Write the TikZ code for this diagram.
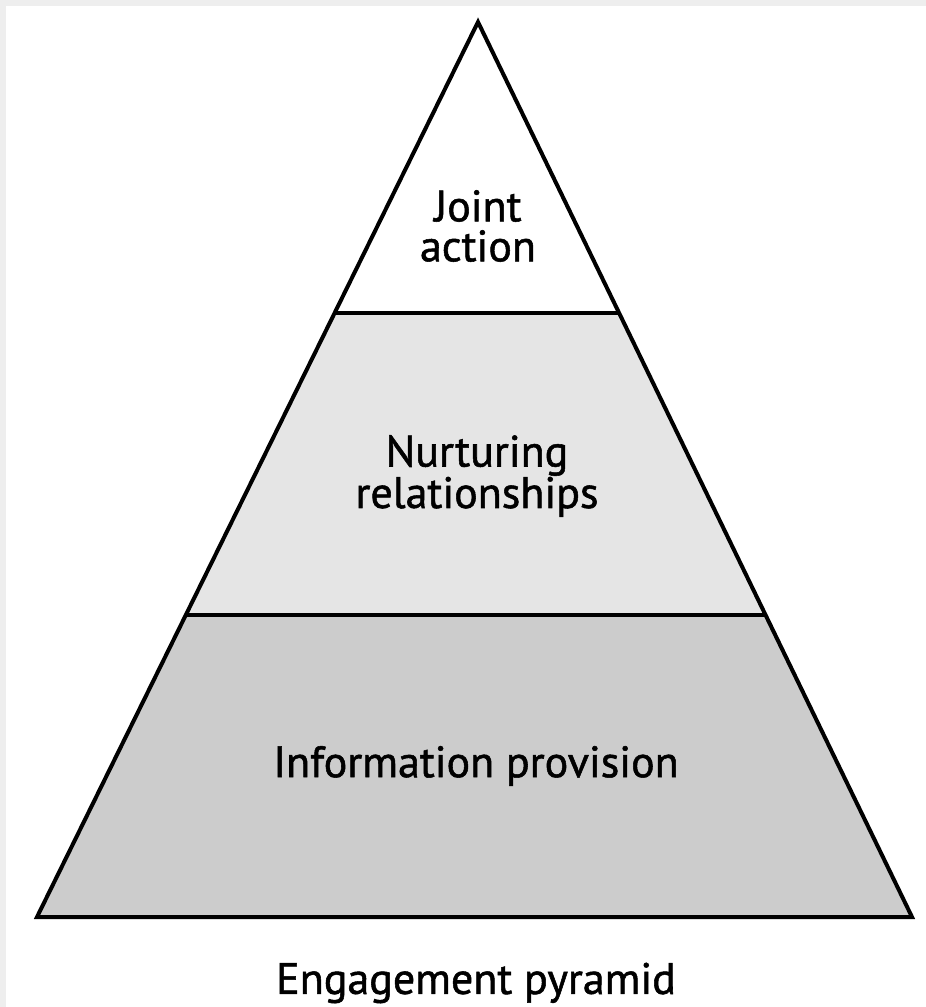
\documentclass[tikz,border=0pt]{standalone}
\usepackage{fontspec}
\setmainfont{PT Sans}[UprightFeatures={FakeBold=1.2}]
\usepackage{xcolor}
\usetikzlibrary{calc}
\definecolor{framegray}{HTML}{EEEEEE}
\definecolor{midgray}{HTML}{E5E5E5}
\definecolor{lowgray}{HTML}{CCCCCC}
\tikzstyle{edge}=[draw=black,line width=4pt,line join=miter]
\tikzstyle{label}=[align=center,font=\fontsize{44}{40}\selectfont]

\begin{document}
\begin{tikzpicture}[x=1pt,y=-1pt]
	\fill[framegray] (0,0) rectangle (926,1007);
	\fill[white] (6,6) rectangle (926,1007);
	\useasboundingbox (0,0) rectangle (926,1007);
	% corners of the pyramid and its levels
	\coordinate (apex) at (478,22);
	\coordinate (bl) at (37,917);
	\coordinate (br) at (912,917);
	\coordinate (t1l) at ($(apex)!0.3251!(bl)$);
	\coordinate (t1r) at ($(apex)!0.3251!(br)$);
	\coordinate (t2l) at ($(apex)!0.6626!(bl)$);
	\coordinate (t2r) at ($(apex)!0.6626!(br)$);
	\fill[midgray] (t1l) -- (t1r) -- (t2r) -- (t2l) -- cycle;
	\fill[lowgray] (t2l) -- (t2r) -- (br) -- (bl) -- cycle;
	\draw[edge] (apex) -- (br) -- (bl) -- cycle;
	\draw[edge] (t1l) -- (t1r);
	\draw[edge] (t2l) -- (t2r);
	\node[label] (top) at (478,226) {Joint\\action};
	\node[label] (mid) at (477,476) {Nurturing\\relationships};
	\node[label] (low) at (476,766) {Information provision};
	\node[label] (title) at (476,983) {Engagement pyramid};
\end{tikzpicture}
\end{document}
